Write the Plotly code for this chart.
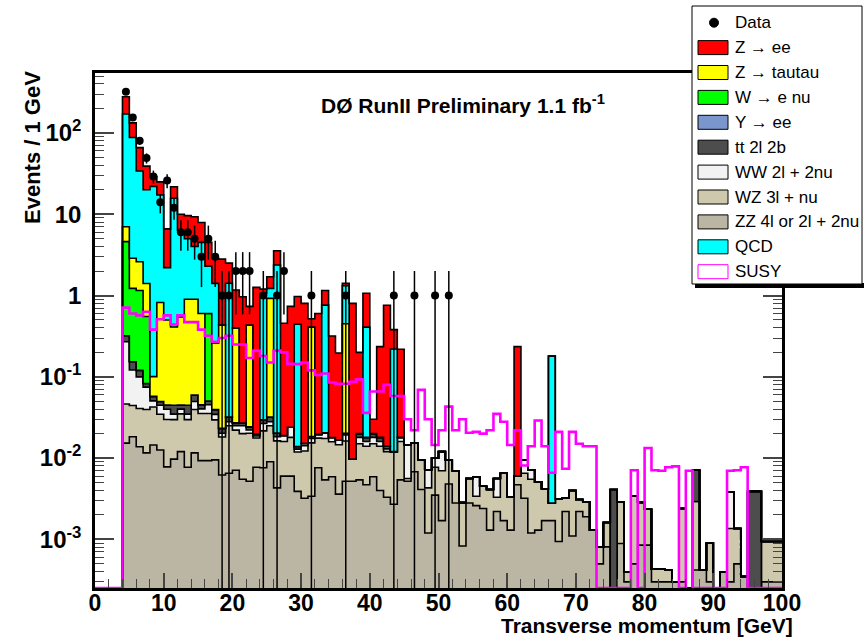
import numpy as np
import plotly.graph_objects as go

# ---------------- data (1 GeV bins, 0..100 GeV) ----------------
bin_edges = list(range(0, 101))

data_counts = [0, 0, 0, 0, 320, 155, 80, 49, 29, 14,
               26, 12, 6, 6, 5, 3, 5, 3, 1, 1,
               2, 2, 2, 0, 1, 0, 1, 2, 0, 0,
               0, 1, 0, 0, 0, 0, 1, 0, 0, 0,
               0, 0, 0, 1, 0, 0, 1, 0, 0, 1,
               0, 1] + [0] * 48

zz = [0, 0, 0, 0, .0153, .0183, .0138, .0116, .0145, .0126,
      .0078, .0097, .012, .0077, .0116, .0093, .0093, .0095, .0062, .0065,
      .0071, .0055, .0052, .0077, .0076, .009, .0043, .006, .006, .0039,
      .0032, .0034, .0076, .0054, .0059, .0036, .0052, .0052, .0054, .0047,
      .0059, .004, .0033, .0027, .0054, .0052, .0068, .0041, .0012, .0035,
      .0017, .0048, .0028, .00083, .0028, .0026, .0024, .0013, .0022, .0017,
      .0013, .0047, .0032, .0012, .0013, .0017, .0017, .00094, .0022, .0011,
      .0022, .0019, .0013, .0005, .00081, 0, .00089, .0003, .0005, .00085,
      .00085, .0003, .0003, .0003, .0003, .0003, 0, .00042, .00042, .0003,
      0, .0004, .0003, .0005, .00035, 0, 0, .0003, .0003, .0003]

wz = [0, 0, 0, 0, .031, .026, .027, .028, .028, .022,
      .022, .02, .023, .022, .028, .026, .026, .02, .012, .0185,
      .015, .0145, .015, .01, .014, .016, .012, .01, .012, .008,
      .009, .012, .01, .012, .01, .011, .011, .0045, .0096, .0093,
      .0091, .01, .0087, .0093, .0106, .0004, .0084, .0054, .0031, .0042,
      .0053, .0047, .0042, .002, .0028, .0008, .0021, .0028, .0011, .0048,
      .002, .0013, .0033, .0043, .0038, .0025, .0011, .0022, .001, .0029,
      .0009, .001, 0, .0003, .0008, 0, .002, .0001, .0029, .002,
      .0015, .00013, .00013, .00012, 0, .0021, 0, .0025, 0, .0006,
      0, 0, .00106, .00086, 0, 0, 0, .00064, .00064, .00064]

ww = [0, 0, 0, 0, .224, .077, .059, .035, .008, .01,
      .01, .005, .005, .005, .01, .005, .01, .005, .002, .003,
      .003, .005, .002, .001, .005, .003, .002, .003, .006, .001,
      .002, .002, .002, .003, .002, .002, .003, 0, .003, .002,
      .003, .002, .001, 0, .002, .009, 0, 0, .0029, .0023,
      .005, 0, 0, 0, 0, .0025, 0, 0, .0023, 0,
      0, 0, .003, .0017, 0, 0, 0, 0, 0, 0,
      0, 0, 0, 0, 0, 0, 0, 0, 0, 0,
      0, 0, 0, 0, 0, 0, 0, 0, 0, 0,
      0, 0, .0025, 0, 0, 0, 0, 0, 0, 0]

tt = [0, 0, 0, 0, .05, .032, .02, .008, .007, .005,
      .005, .01, .005, .01, .01, .005, .005, .005, .003, .004,
      .002, .002, .002, .001, .003, .004, .002, 0, 0, .001,
      .001, .001, 0, 0, 0, 0, .001, 0, .002, .002,
      .002, .002, .001] + [0] * 32 + [.0041] + [0] * 11 + [.0042] + [0] * 7 + [.0039, .0039, 0, 0, 0]

y_ee = [0] * 100

w_enu = [0, 0, 0, 0, 4.28, 1.07, 1.03, .47, 0, 0,
         0, 0, 0, 0, 0, 0, .55] + [0] * 83

z_tautau = [0, 0, 0, 0, 2.4, 1.65, 1.45, .85, .043, .77,
            .455, .365, .5, .855, .84, .555, 0, .22, .41, 0,
            .37, 0, .41, 0, 0, .89, 0, 0, 0, 0,
            0, .39, 0, 0, 0, 0, .43] + [0] * 63

qcd = [0, 0, 0, 0, 164, 85, 31.4, 18.6, 21.9, 16.4,
       1.7, 15.3, 5.75, 4.1, 3.1, 3.9, 1.7, 1.15, 0, 1.38,
       0, 0, 0, 0, 1.03, .3, 2.35, 0, 0, .43,
       0, 0, 0, .74, 0, 0, .87, 0, 0, .39,
       0, 0, 0, .208] + [0] * 22 + [.177] + [0] * 33

z_ee = [0, 0, 0, 0, 108, 45, 32, 19, 7, 7.8,
        4.4, 6.1, 3.7, 4.6, 5.3, 3.4, 2.2, 1.46, 2.37, 1.09,
        .77, .94, .3, 1.24, .14, .48, 1.18, .436, .71, .53,
        .785, .11, .58, .39, .3, .18, .09, .79, .18, .66,
        .01, .217, .746, .16, .2] + [0] * 16 + [.229] + [0] * 38

susy = [0, 0, 0, 0, .71, .6, .57, .63, .38, .51,
        .57, .44, .57, .47, .47, .38, .32, .27, .3, .32,
        .25, .25, .17, .21, .18, .15, .21, .2, .145, .143,
        .15, .12, .105, .11, .085, .082, .082, .087, .093, .036,
        .066, .066, .08, .058, .058, .03, .022, .069, .03, .0145,
        .022, .043, .022, .03, .0205, .021, .02, .022, .035, .028,
        .0145, .022, .0081, .014, .029, .014, .0066, .021, .0074, .021,
        .015, .014, .014, 0, 0, 0, 0, 0, .0071, 0,
        .0133, .0071, .007, .0077, .0079, 0, .007, 0, 0, 0,
        0, 0, .007, .0071, .0077, 0, 0, 0, 0, 0]

# stack (bottom -> top): label, values, fill colour
stack = [
    ("ZZ 4l or 2l + 2nu", zz, "#BBB5A3"),
    ("WZ 3l + nu", wz, "#CEC9AC"),
    ("WW 2l + 2nu", ww, "#F2F2F2"),
    ("tt 2l 2b", tt, "#4D4D4D"),
    ("Y \u2192 ee", y_ee, "#7A96CC"),
    ("W \u2192 e nu", w_enu, "#00FF00"),
    ("Z \u2192 tautau", z_tautau, "#FFFF00"),
    ("QCD", qcd, "#00FFFF"),
    ("Z \u2192 ee", z_ee, "#FF0000"),
]

LOG_MIN, LOG_MAX = -3.598, 2.737
YMIN = 10 ** LOG_MIN

edges = np.array(bin_edges, dtype=float)
centers = edges[:-1] + 0.5

fig = go.Figure()

# baseline for the stacked fills
fig.add_trace(go.Scatter(x=edges, y=np.full(len(edges), YMIN), mode="lines",
                         line=dict(width=0), hoverinfo="skip", showlegend=False))
cum = np.zeros(len(centers))
for name, vals, col in stack:
    cum = cum + np.array(vals, dtype=float)
    yy = np.maximum(cum, YMIN)
    yy = np.append(yy, yy[-1])
    fig.add_trace(go.Scatter(x=edges, y=yy, mode="lines", name=name,
                             line=dict(color="black", width=1.6, shape="hv"),
                             fill="tonexty", fillcolor=col, showlegend=False))

# SUSY signal line
s = np.maximum(np.array(susy, dtype=float), YMIN)
s = np.append(s, s[-1])
fig.add_trace(go.Scatter(x=edges, y=s, mode="lines", name="SUSY",
                         line=dict(color="#FF00FF", width=2.6, shape="hv"),
                         showlegend=False))

# data points with Poisson errors
n = np.array(data_counts, dtype=float)
m = n > 0
err = np.sqrt(n[m])
lo = np.maximum(n[m] - err, YMIN)
fig.add_trace(go.Scatter(x=centers[m], y=n[m], mode="markers", name="Data",
                         marker=dict(color="black", size=8),
                         error_y=dict(type="data", array=err, arrayminus=n[m] - lo,
                                      color="black", thickness=1.5, width=0),
                         showlegend=False))

# ---------------- axes ----------------
minor_y = [k * 10.0 ** e for e in range(-4, 3) for k in range(2, 10)]
minor_y = [v for v in minor_y if YMIN < v < 10 ** LOG_MAX]
FONT = "Liberation Sans, Arial, Helvetica, sans-serif"

fig.update_xaxes(range=[0, 100], showline=True, linecolor="black", linewidth=2.5,
                 mirror=True, ticks="inside", ticklen=15, tickwidth=1.5,
                 tick0=0, dtick=10, showgrid=False, zeroline=False,
                 ticklabelstandoff=-7,
                 tickfont=dict(family=FONT, size=23, color="black", weight="bold"),
                 minor=dict(ticks="inside", ticklen=9, tickwidth=1.2, dtick=2,
                            tick0=0, showgrid=False))
fig.update_yaxes(type="log", range=[LOG_MIN, LOG_MAX], showline=True, linecolor="black",
                 linewidth=2.5, mirror="ticks", ticks="inside", ticklen=19, tickwidth=1.5,
                 tickmode="array", tickvals=[1e-3, 1e-2, 1e-1, 1, 10, 100],
                 ticktext=["10<sup>-3</sup>", "10<sup>-2</sup>", "10<sup>-1</sup>",
                           "1", "10", "10<sup>2</sup>"],
                 showgrid=False, zeroline=False, ticklabelstandoff=6,
                 tickfont=dict(family=FONT, size=24, color="black", weight="bold"),
                 minor=dict(ticks="inside", ticklen=9, tickwidth=1.2, tickmode="array",
                            tickvals=minor_y, showgrid=False))

L, R, T, B = 95, 782, 73, 588


def PX(px):
    return (px - L) / (R - L)


def PY(py):
    return (B - py) / (B - T)


shapes = []
annotations = []

# titles
annotations.append(dict(x=PX(463), y=PY(104), xref="paper", yref="paper",
                        text="<b>D\u00d8 RunII Preliminary 1.1 fb<sup>-1</sup></b>",
                        showarrow=False, font=dict(family=FONT, size=21, color="black"),
                        xanchor="center", yanchor="middle"))
annotations.append(dict(x=PX(33), y=PY(147), xref="paper", yref="paper",
                        text="<b>Events / 1 GeV</b>", textangle=-90, showarrow=False,
                        font=dict(family=FONT, size=22, color="black"),
                        xanchor="center", yanchor="middle"))
annotations.append(dict(x=PX(795), y=PY(625), xref="paper", yref="paper",
                        text="<b>Transverse momentum [GeV]</b>", showarrow=False,
                        font=dict(family=FONT, size=21, color="black"),
                        xanchor="right", yanchor="middle"))

# legend box (drawn by hand, ROOT style)
shapes.append(dict(type="rect", xref="paper", yref="paper", layer="above",
                   x0=PX(695), x1=PX(864), y0=PY(288), y1=PY(283),
                   fillcolor="black", line=dict(width=0)))
shapes.append(dict(type="rect", xref="paper", yref="paper", layer="above",
                   x0=PX(692), x1=PX(862), y0=PY(284), y1=PY(6),
                   fillcolor="white", line=dict(color="black", width=1)))

legend_items = [("Data", None, None)] + [(lab, col, "black") for lab, _, col in
                                          [stack[8], stack[6], stack[5], stack[4], stack[3],
                                           stack[2], stack[1], stack[0], stack[7]]] + \
               [("SUSY", "white", "#FF00FF")]
for i, (lab, col, lcol) in enumerate(legend_items):
    cy = 22.7 + 24.9 * i
    if col is None:
        shapes.append(dict(type="circle", xref="paper", yref="paper", layer="above",
                           x0=PX(709.5), x1=PX(718.5), y0=PY(cy + 4.5), y1=PY(cy - 4.5),
                           fillcolor="black", line=dict(color="black", width=1)))
    else:
        shapes.append(dict(type="rect", xref="paper", yref="paper", layer="above",
                           x0=PX(698), x1=PX(728), y0=PY(cy + 7), y1=PY(cy - 7),
                           fillcolor=col, line=dict(color=lcol, width=1)))
    annotations.append(dict(x=PX(733), y=PY(cy), xref="paper", yref="paper", text=lab,
                            showarrow=False, xanchor="left", yanchor="middle",
                            font=dict(family=FONT, size=17, color="black")))

fig.update_layout(width=864, height=639, margin=dict(l=L, r=864 - R, t=T, b=639 - B),
                  paper_bgcolor="white", plot_bgcolor="white", showlegend=False,
                  font=dict(family=FONT, color="black"),
                  shapes=shapes, annotations=annotations)

fig.write_html("out.html")
